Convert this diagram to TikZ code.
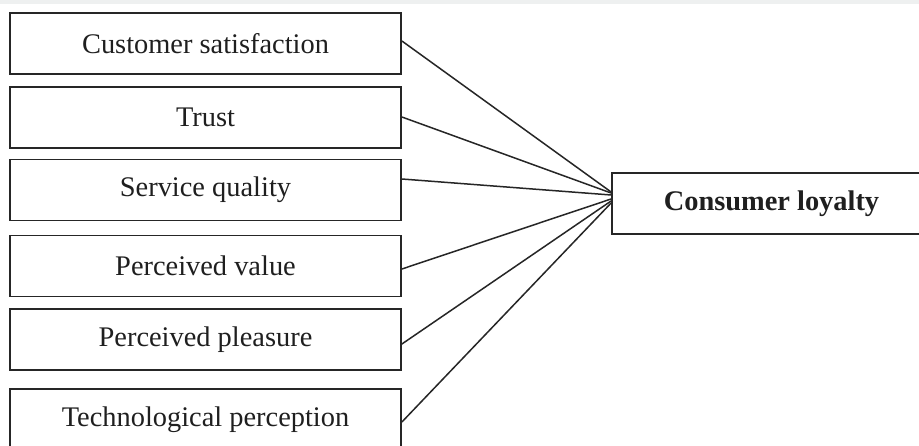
\documentclass[tikz,border=0pt]{standalone}
\usepackage{fontspec}
\setmainfont{Liberation Serif}
\begin{document}
\begin{tikzpicture}[x=1pt,y=-1pt,
  factor/.style={draw=black!85,line width=1.8pt,minimum width=391pt,minimum height=61pt,inner sep=0pt,
    font=\fontsize{28.4}{32}\selectfont,text=black!88},
  target/.style={draw=black!85,line width=1.8pt,minimum width=319pt,minimum height=61pt,inner sep=0pt,
    font=\fontsize{28.4}{32}\selectfont\bfseries,text=black!88},
  link/.style={draw=black!85,line width=1.5pt}]
\path[use as bounding box,clip] (0,0) rectangle (919,446);
\fill[white] (0,0) rectangle (919,446);
\fill[color={rgb,255:red,238;green,240;blue,240}] (0,0) rectangle (919,4);
\node[factor] (b1) at (205.5,43.5) {Customer satisfaction};
\node[factor] (b2) at (205.5,117.5) {Trust};
\node[factor] (b3) at (205.5,190) {Service quality};
\node[factor] (b4) at (205.5,266) {Perceived value};
\node[factor] (b5) at (205.5,339.5) {Perceived pleasure};
\node[factor] (b6) at (205.5,419.5) {Technological perception};
\node[target] (cl) at (771.5,203.5) {Consumer loyalty};
\draw[link] ([yshift=2.5pt]b1.east) -- ([yshift=11.5pt]cl.west);
\draw[link] ([yshift=0.5pt]b2.east) -- ([yshift=10.5pt]cl.west);
\draw[link] ([yshift=11pt]b3.east) -- ([yshift=8.5pt]cl.west);
\draw[link] ([yshift=-3pt]b4.east) -- ([yshift=4.5pt]cl.west);
\draw[link] ([yshift=-4.5pt]b5.east) -- ([yshift=2.5pt]cl.west);
\draw[link] ([yshift=-2.5pt]b6.east) -- ([yshift=0.5pt]cl.west);
\end{tikzpicture}
\end{document}
